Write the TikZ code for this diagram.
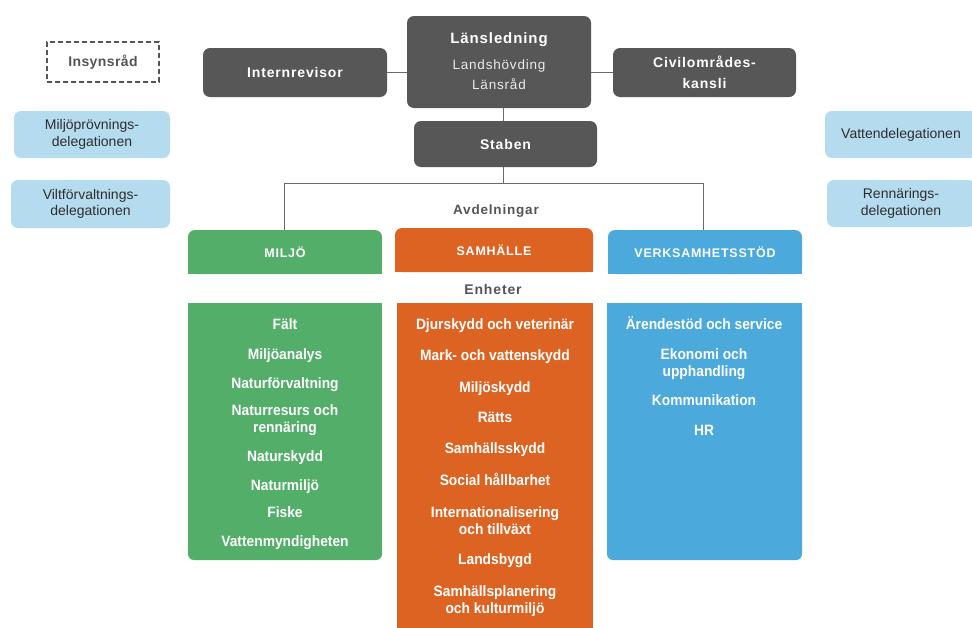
\documentclass[tikz,border=0pt]{standalone}
\usepackage{fontspec}
\setmainfont{Liberation Sans}
\newfontfamily\itemf{Liberation Sans}[FakeStretch=0.92]
\newfontfamily\spf{Liberation Sans}[LetterSpace=6]
\newfontfamily\spsf{Liberation Sans}[LetterSpace=3]
\definecolor{cdark}{HTML}{575757}
\definecolor{cline}{HTML}{6B6B6B}
\definecolor{cgreen}{HTML}{53AE6A}
\definecolor{corange}{HTML}{DD6322}
\definecolor{cblue}{HTML}{4BA9DC}
\definecolor{clb}{HTML}{B5DBEF}
\definecolor{ctxt}{HTML}{2E2E2E}
\definecolor{cgray}{HTML}{555555}
\begin{document}
\begin{tikzpicture}[x=1pt,y=-1pt,
  darkbox/.style={fill=cdark, rounded corners=7pt, inner sep=0pt, text=white, align=center,
    font=\spf\bfseries\fontsize{14}{21}\selectfont},
  delegbox/.style={fill=clb, rounded corners=7pt, inner sep=0pt, text=ctxt, align=center,
    font=\fontsize{14}{16.5}\selectfont},
  hdrbox/.style={rounded corners=7pt, inner sep=0pt, text=white,
    font=\spf\bfseries\fontsize{12.5}{15}\selectfont},
  bodybox/.style={rounded corners=6pt, inner sep=0pt},
  itm2/.style={inner sep=0pt, text=white, align=center,
    font=\itemf\bfseries\fontsize{15}{17}\selectfont},
  itm/.style={itm2, text height=11pt, text depth=3pt},
  lbl/.style={inner sep=0pt, text=cgray, font=\spf\bfseries\fontsize{13.5}{16}\selectfont},
  conn/.style={draw=cline, line width=1pt}]
\clip (0,0) rectangle (972,627);
\fill[white] (0,0) rectangle (972,627);

% top row
\node[draw=cgray, dashed, dash pattern=on 5pt off 3pt, line width=1.4pt, inner sep=0pt,
  minimum width=112pt, minimum height=40pt, text=cgray,
  font=\spsf\bfseries\fontsize{14}{16}\selectfont] (insyn) at (103,62) {Insynsråd};
\node[darkbox, minimum width=184pt, minimum height=49pt] (intern) at (295,72.5) {Internrevisor};
\node[darkbox, minimum width=184pt, minimum height=92pt] (lans) at (499,62) {};
\node[inner sep=0pt, text=white, font=\spf\bfseries\fontsize{15}{18}\selectfont] (lanst) at (499,40) {Länsledning};
\node[inner sep=0pt, text=white!92!black, align=center, font=\spf\fontsize{13.5}{20}\selectfont] (lanss) at (499,75) {Landshövding\\Länsråd};
\node[darkbox, minimum width=183pt, minimum height=49pt] (civil) at (704.5,72.5) {Civilområdes-\\kansli};
\node[darkbox, minimum width=183pt, minimum height=46pt] (staben) at (505.5,144) {Staben};

% delegations
\node[delegbox, minimum width=156pt, minimum height=47pt] (mpd) at (92,134.5) {Miljöprövnings-\\delegationen};
\node[delegbox, minimum width=159pt, minimum height=48pt] (vfd) at (90.5,204) {Viltförvaltnings-\\delegationen};
\node[delegbox, minimum width=152pt, minimum height=47pt] (vd) at (901,134.5) {Vattendelegationen};
\node[delegbox, minimum width=148pt, minimum height=47pt] (rd) at (901,203.5) {Rennärings-\\delegationen};

% connectors
\draw[conn] (intern.east) -- (intern.east -| lans.west);
\draw[conn] (civil.west) -- (civil.west -| lans.east);
\draw[conn] ([xshift=4pt]lans.south) -- ([xshift=-2.5pt]staben.north);
\coordinate (bl) at (284,183);
\coordinate (br) at (703,183);

% header boxes
\fill[cgreen] (188,252) rectangle (382,274);
\node[hdrbox, fill=cgreen, minimum width=194pt, minimum height=44pt] (miljoH) at (285,252) {MILJÖ};
\fill[corange] (395,250) rectangle (593,272);
\node[hdrbox, fill=corange, minimum width=198pt, minimum height=44pt] (samH) at (494,250) {SAMHÄLLE};
\fill[cblue] (608,252) rectangle (802,274);
\node[hdrbox, fill=cblue, minimum width=194pt, minimum height=44pt] (verkH) at (705,252) {VERKSAMHETSSTÖD};

\draw[conn] ([xshift=-2.5pt]staben.south) -- ([xshift=-2.5pt]staben.south |- bl);
\draw[conn] (bl |- miljoH.north) -- (bl) -- (br) -- (br |- verkH.north);

\node[lbl] (avd) at (496,211) {Avdelningar};
\node[lbl, font=\spf\bfseries\fontsize{14}{16}\selectfont] (enh) at (493,289) {Enheter};

% body boxes
\fill[cgreen] (188,303) rectangle (382,430);
\node[bodybox, fill=cgreen, minimum width=194pt, minimum height=257pt] (miljoB) at (285,431.5) {};
\node[fill=corange, inner sep=0pt, minimum width=196pt, minimum height=337pt] (samB) at (495,471.5) {};
\fill[cblue] (607,303) rectangle (802,430);
\node[bodybox, fill=cblue, minimum width=195pt, minimum height=257pt] (verkB) at (704.5,431.5) {};

% green items
\node[itm] (g1) at (285,325) {Fält};
\node[itm] (g2) at (285,355) {Miljöanalys};
\node[itm] (g3) at (285,384) {Naturförvaltning};
\node[itm2] (g4) at (285,420) {Naturresurs  och\\rennäring};
\node[itm] (g5) at (285,457) {Naturskydd};
\node[itm] (g6) at (285,486) {Naturmiljö};
\node[itm] (g7) at (285,513) {Fiske};
\node[itm] (g8) at (285,542) {Vattenmyndigheten};

% orange items
\node[itm] (o1) at (495,325) {Djurskydd  och veterinär};
\node[itm] (o2) at (495,356) {Mark- och vattenskydd};
\node[itm] (o3) at (495,388) {Miljöskydd};
\node[itm] (o4) at (495,418) {Rätts};
\node[itm] (o5) at (495,449) {Samhällsskydd};
\node[itm] (o6) at (495,481) {Social hållbarhet};
\node[itm2] (o7) at (495,521) {Internationalisering\\och tillväxt};
\node[itm] (o8) at (495,560) {Landsbygd};
\node[itm2] (o9) at (495,601) {Samhällsplanering\\och kulturmiljö};

% blue items
\node[itm] (b1) at (704,325) {Ärendestöd  och service};
\node[itm2] (b2) at (704,364) {Ekonomi  och\\upphandling};
\node[itm] (b3) at (704,401) {Kommunikation};
\node[itm] (b4) at (704,431) {HR};
\end{tikzpicture}
\end{document}
